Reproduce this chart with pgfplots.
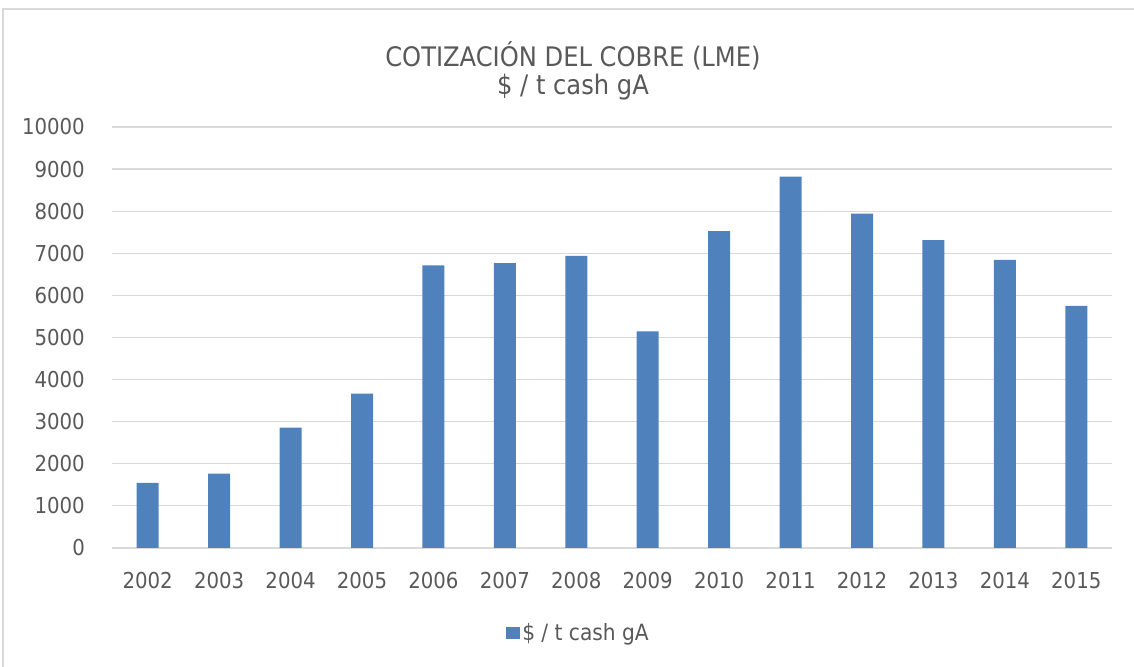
\documentclass[border=0pt]{standalone}
\usepackage{fontspec}
\setmainfont{DejaVu Sans Condensed}
\usepackage{pgfplots}
\pgfplotsset{compat=1.18}
\definecolor{barblue}{RGB}{79,129,189}
\definecolor{txt}{RGB}{89,89,89}
\definecolor{gridc}{RGB}{217,217,217}
\begin{document}
\begin{tikzpicture}
\path[use as bounding box] (0bp,0bp) rectangle (1134bp,667bp);
\draw[gridc,line width=1.5bp] (3bp,-20bp) -- (3bp,658bp) -- (1160bp,658bp);
\node[txt,font=\fontsize{27}{30}\selectfont,anchor=base,inner sep=0pt] at (573bp,600.3bp)
  {COTIZACIÓN DEL COBRE (LME)};
\node[txt,font=\fontsize{27}{30}\selectfont,anchor=base,inner sep=0pt] at (573bp,572bp)
  {\$ / t cash gA};
\begin{axis}[
  at={(112bp,119bp)}, anchor=south west,
  width=1000bp, height=421bp, scale only axis,
  ybar, bar width=22bp,
  xmin=-0.5, xmax=13.5, ymin=0, ymax=10000,
  xtick={0,...,13},
  xticklabels={2002,2003,2004,2005,2006,2007,2008,2009,2010,2011,2012,2013,2014,2015},
  ytick={0,1000,...,10000},
  scaled y ticks=false,
  yticklabel={\pgfmathprintnumber[fixed,precision=0,1000 sep={}]{\tick}},
  /pgf/number format/1000 sep={},
  /pgf/number format/assume math mode=true,
  ymajorgrids, grid style={gridc,line width=1.2bp},
  axis x line*=bottom, axis y line*=left,
  x axis line style={gridc,line width=1.2bp,-},
  y axis line style={draw=none},
  major tick length=0pt,
  tick label style={txt,font=\fontsize{22}{24}\selectfont},
  yticklabel style={anchor=east,inner sep=0pt,xshift=-27bp},
  xticklabel style={anchor=north,inner sep=0pt,yshift=-23.7bp},
  legend style={at={(axis description cs:0.4665,-0.202)},anchor=center,draw=none,
    font=\fontsize{22.5}{24}\selectfont, text=txt},
  legend image code/.code={\fill[barblue] (0bp,-6bp) rectangle (14bp,6bp);},
]
\addplot[fill=barblue,draw=none] coordinates {
(0,1545) (1,1767) (2,2861) (3,3669) (4,6712) (5,6767) (6,6941)
(7,5143) (8,7528) (9,8819) (10,7940) (11,7314) (12,6846) (13,5753)};
\addlegendentry{\$ / t cash gA}
\end{axis}
\end{tikzpicture}
\end{document}
